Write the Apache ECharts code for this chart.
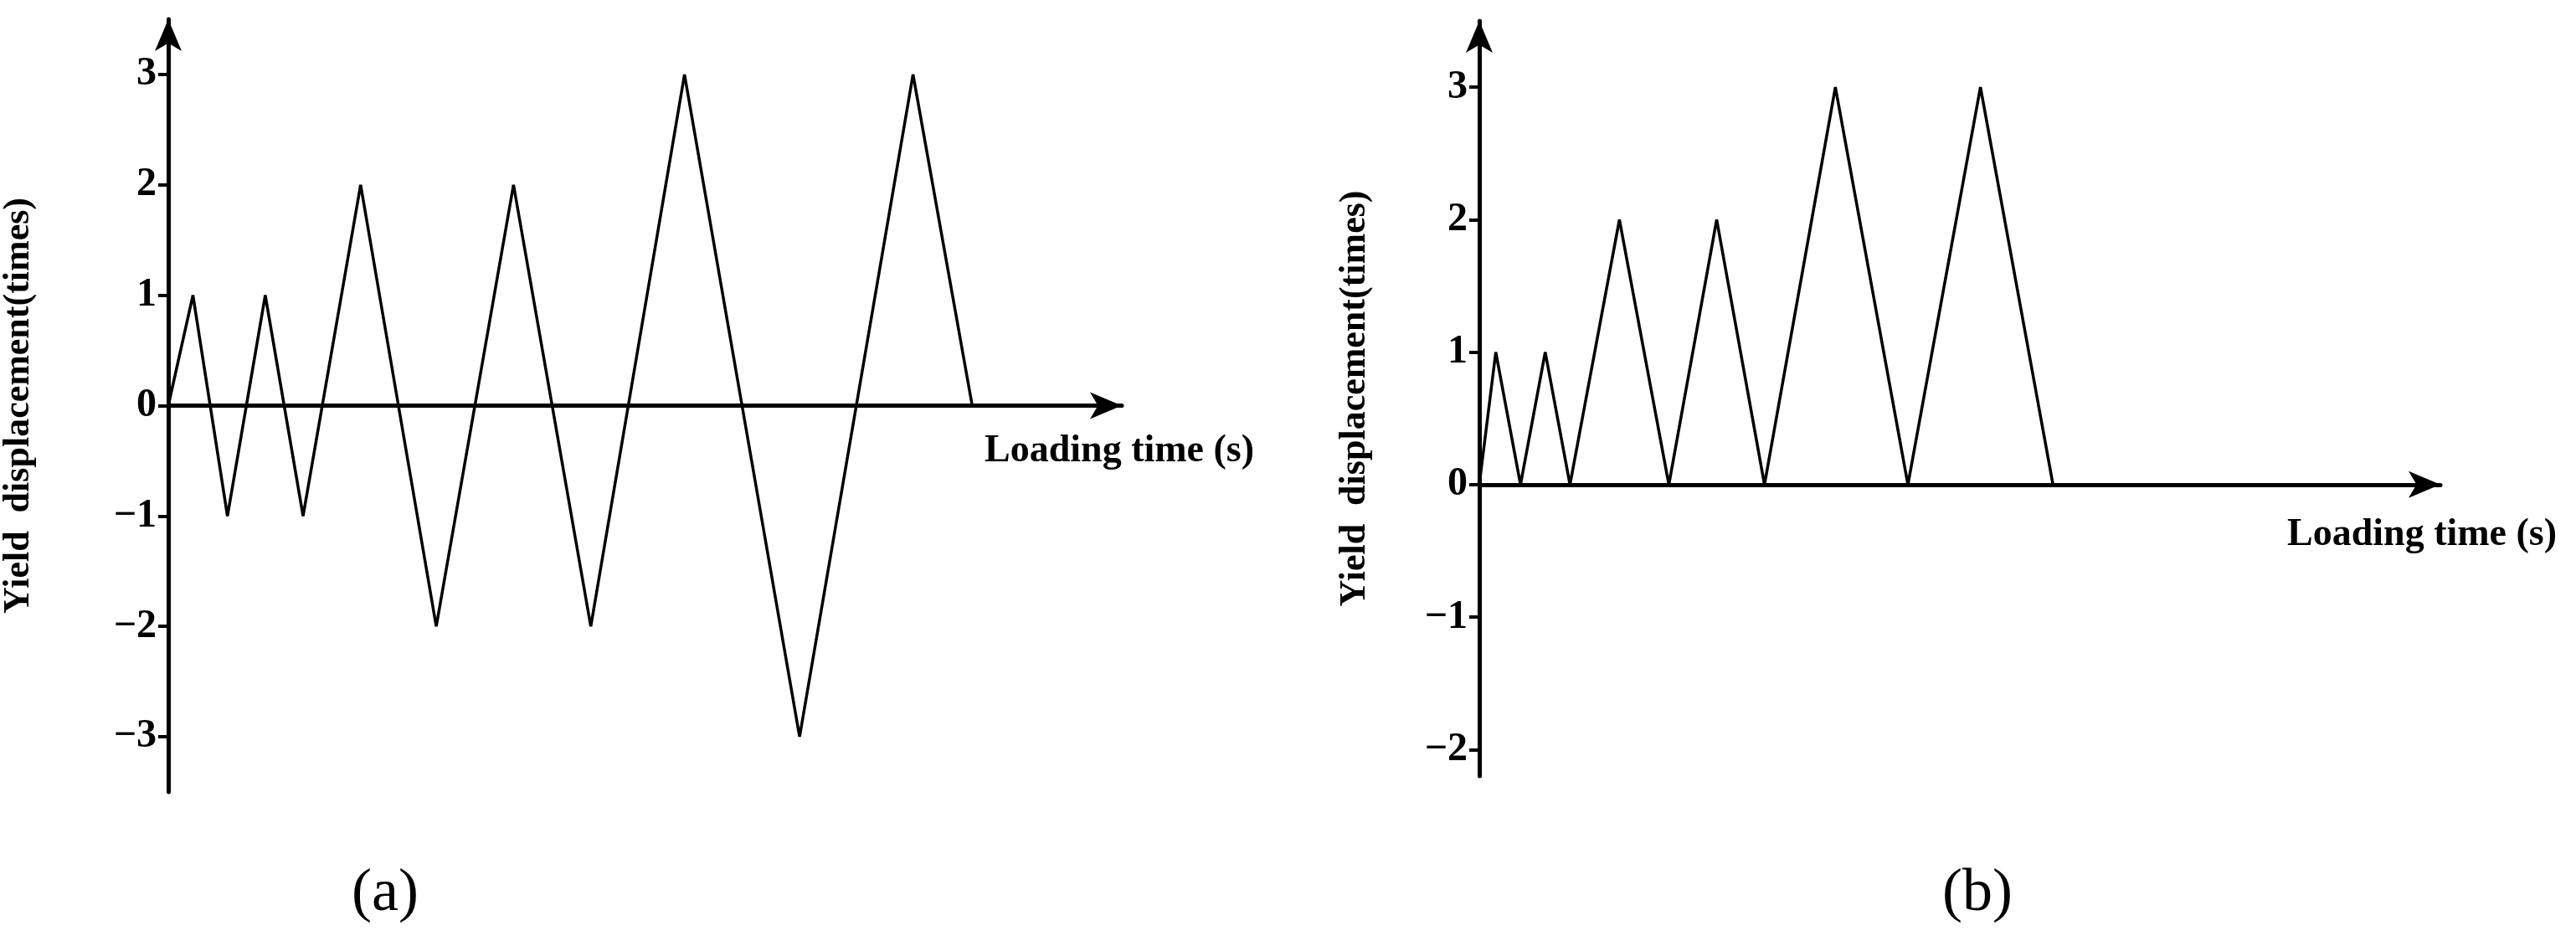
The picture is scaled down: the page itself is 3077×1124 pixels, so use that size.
<!DOCTYPE html>
<html lang="en">
<head>
  <meta charset="UTF-8">
  <title>Loading protocols</title>
  <script src="https://cdn.jsdelivr.net/npm/echarts@6.0.0/dist/echarts.min.js"></script>
  <style>
    html, body { margin: 0; padding: 0; background: #fff; }
    #chart { width: 3077px; height: 1124px; }
  </style>
</head>
<body>
  <div id="chart"></div>
  <script>
    // (a) cyclic loading, time in arbitrary units
    const timeA = [0, 15, 36, 59, 82, 117, 163, 210, 257, 314, 384, 453, 489];
    const dispA = [0, 1, -1, 1, -1, 2, -2, 2, -2, 3, -3, 3, 0];
    // (b) monotonic repeated loading
    const timeB = [0, 10, 25, 40, 55, 85, 115, 144, 173, 216, 260, 304, 348];
    const dispB = [0, 1, 0, 1, 0, 2, 0, 2, 0, 3, 0, 3, 0];
    const ticksA = [-3, -2, -1, 0, 1, 2, 3];
    const ticksB = [-2, -1, 0, 1, 2, 3];

    const font = '"Liberation Serif", "Times New Roman", serif';
    const fmt = v => (v < 0 ? '\u2212' + Math.abs(v) : String(v));

    function yAxis(idx, min, max, ticks, gap) {
      return {
        type: 'value', gridIndex: idx, min: min, max: max,
        name: 'Yield  displacement(times)', nameLocation: 'middle', nameGap: gap,
        nameTextStyle: { fontFamily: font, fontWeight: 'bold', fontSize: 44, color: '#000' },
        splitLine: { show: false },
        axisLine: { show: true, lineStyle: { color: '#000', width: 5 }, symbol: ['none', 'arrow'], symbolSize: [24, 38] },
        axisTick: { show: true, length: 12, lineStyle: { width: 4, color: '#000' }, customValues: ticks },
        axisLabel: { customValues: ticks, formatter: fmt, margin: 14, fontFamily: font, fontWeight: 'bold', fontSize: 48, color: '#000' }
      };
    }
    function xAxis(idx, max) {
      return {
        type: 'value', gridIndex: idx, min: 0, max: max,
        splitLine: { show: false }, axisTick: { show: false }, axisLabel: { show: false },
        axisLine: { onZero: true, lineStyle: { color: '#000', width: 5 }, symbol: ['none', 'arrow'], symbolSize: [24, 38] }
      };
    }
    function line(idx, xs, ys) {
      return {
        type: 'line', xAxisIndex: idx, yAxisIndex: idx, symbol: 'none',
        lineStyle: { color: '#000', width: 3.5 },
        data: xs.map((t, i) => [t, ys[i]])
      };
    }

    const chart = echarts.init(document.getElementById('chart'));
    chart.setOption({
      backgroundColor: '#fff',
      animation: false,
      grid: [
        { left: 197, top: 23, width: 1143, height: 923 },
        { left: 1767, top: 25, width: 1148, height: 902 }
      ],
      xAxis: [xAxis(0, 580), xAxis(1, 583)],
      yAxis: [yAxis(0, -3.5, 3.5, ticksA, 156), yAxis(1, -2.2, 3.5, ticksB, 126)],
      series: [line(0, timeA, dispA), line(1, timeB, dispB)],
      graphic: [
        { type: 'text', left: 1176, top: 516, style: { text: 'Loading time (s)', fontFamily: font, fontWeight: 'bold', fontSize: 46, fill: '#000' } },
        { type: 'text', left: 2732, top: 616, style: { text: 'Loading time (s)', fontFamily: font, fontWeight: 'bold', fontSize: 46, fill: '#000' } },
        { type: 'text', left: 420, top: 1032, style: { text: '(a)', fontFamily: font, fontSize: 72, fill: '#000' } },
        { type: 'text', left: 2320, top: 1032, style: { text: '(b)', fontFamily: font, fontSize: 72, fill: '#000' } }
      ]
    });
  </script>
</body>
</html>
